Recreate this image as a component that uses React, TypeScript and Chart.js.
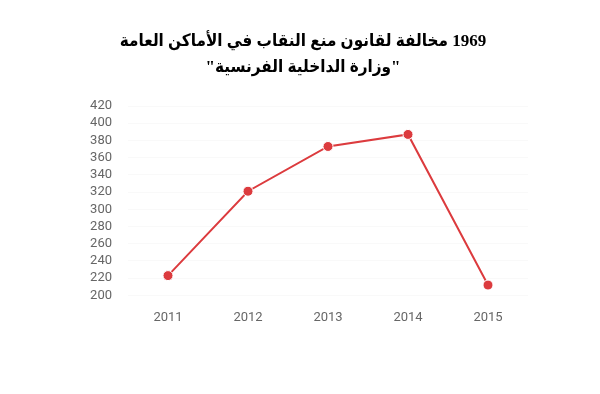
import React, { useEffect, useRef } from "react";
import { Chart, registerables } from "chart.js";

Chart.register(...registerables);

const titleLines = [
  "1969 مخالفة لقانون منع النقاب في الأماكن العامة",
  '"وزارة الداخلية الفرنسية"',
];
const years = ["2011", "2012", "2013", "2014", "2015"];
const violations = [223, 321, 373, 387, 212];
const yMin = 200;
const yMax = 420;
const yStep = 20;

export default function App() {
  const ref = useRef<HTMLCanvasElement | null>(null);

  useEffect(() => {
    if (!ref.current) return;
    const chart = new Chart(ref.current, {
      type: "line",
      data: {
        labels: years,
        datasets: [
          {
            data: violations,
            borderColor: "#dc3b3e",
            backgroundColor: "#dc3b3e",
            borderWidth: 2,
            pointRadius: 5,
            pointBackgroundColor: "#dc3b3e",
            pointBorderColor: "#ffffff",
            pointBorderWidth: 1,
            tension: 0,
          },
        ],
      },
      options: {
        animation: false,
        responsive: false,
        maintainAspectRatio: false,
        layout: { padding: { left: 78, right: 72, top: 0, bottom: 53 } },
        plugins: {
          legend: { display: false },
          tooltip: { enabled: false },
          title: {
            display: true,
            text: titleLines,
            color: "#000000",
            font: {
              family: "'Liberation Serif', 'DejaVu Sans Condensed', 'DejaVu Sans', serif",
              size: 17,
              weight: "bold",
              lineHeight: 1.53,
            },
            padding: { top: 29, bottom: 25 },
          },
        },
        scales: {
          x: {
            offset: true,
            grid: { display: false, drawTicks: false },
            border: { display: false },
            ticks: {
              color: "#666666",
              padding: 15,
              font: { family: "Roboto", size: 13 },
            },
          },
          y: {
            min: yMin,
            max: yMax,
            afterFit: (scale: any) => {
              scale.width = 50;
            },
            grid: { color: "rgba(0,0,0,0.025)", drawTicks: false },
            border: { display: false },
            ticks: {
              stepSize: yStep,
              autoSkip: false,
              color: "#666666",
              padding: 16,
              font: { family: "Roboto", size: 13 },
            },
          },
        },
      },
    });
    return () => chart.destroy();
  }, []);

  return (
    <div style={{ position: "fixed", left: 0, top: 0, width: 600, height: 394, background: "#fff" }}>
      <canvas
        ref={ref}
        width={600}
        height={394}
        style={{ display: "block", width: 600, height: 394, direction: "rtl" }}
      />
    </div>
  );
}
